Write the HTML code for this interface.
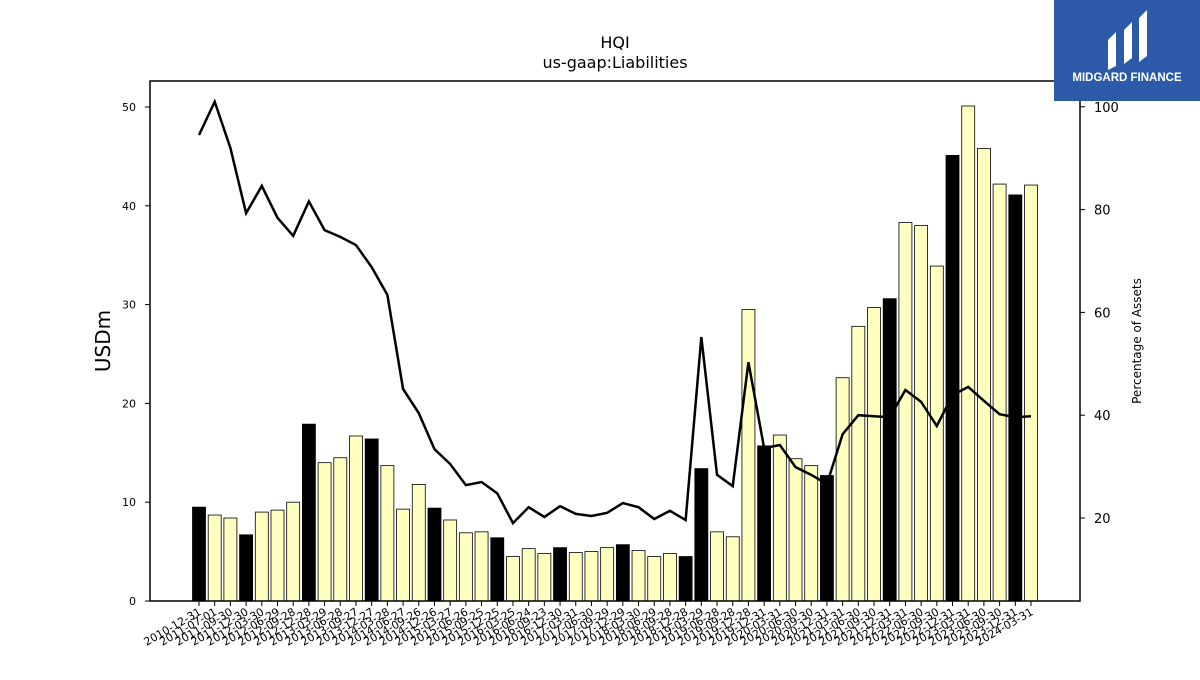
<!DOCTYPE html>
<html><head><meta charset="utf-8"><style>
body{margin:0;background:#fff;font-family:"Liberation Sans","DejaVu Sans",sans-serif}
svg text{font-family:"DejaVu Sans","Liberation Sans",sans-serif}
</style></head><body>
<svg id="chart" width="1200" height="675" xmlns="http://www.w3.org/2000/svg">
<rect width="1200" height="675" fill="#fff"/>
<text x="615" y="48" font-size="16" text-anchor="middle">HQI</text>
<text x="615" y="68" font-size="16" text-anchor="middle">us-gaap:Liabilities</text>
<g id="bars"></g><g id="line"></g><g id="axes"></g>
<rect x="150" y="81" width="930" height="520" fill="none" stroke="#000" stroke-width="1.5"/>
<text transform="translate(110,341) rotate(-90)" font-size="20" text-anchor="middle">USDm</text>
<text transform="translate(1141,341) rotate(-90)" font-size="12" text-anchor="middle">Percentage of Assets</text>
<g>
<rect x="1054" y="0" width="146" height="101" fill="#2c5aa8"/>
<path d="M1108 70 V40 L1116 32 V66 Z M1124 64 V30 L1132 22 V58 Z M1139 62 V18 L1147 10 V56 Z" fill="#fff"/>
<text x="1127" y="81" font-size="11.5" font-weight="bold" fill="#fff" text-anchor="middle" style="font-family:'Liberation Sans',sans-serif">MIDGARD FINANCE</text>
</g>
</svg>
<script>
const dates=["2010-12-31","2011-07-01","2011-09-30","2011-12-30","2012-03-30","2012-06-29","2012-09-28","2012-12-28","2013-03-29","2013-06-28","2013-09-27","2013-12-27","2014-03-28","2014-06-27","2014-09-26","2014-12-26","2015-03-27","2015-06-26","2015-09-25","2015-12-25","2016-03-25","2016-06-24","2016-09-23","2016-12-30","2017-03-31","2017-06-30","2017-09-29","2017-12-29","2018-03-30","2018-06-29","2018-09-28","2018-12-28","2019-03-29","2019-06-28","2019-09-28","2019-12-28","2019-12-31","2020-03-31","2020-06-30","2020-09-30","2020-12-31","2021-03-31","2021-06-30","2021-09-30","2021-12-31","2022-03-31","2022-06-30","2022-09-30","2022-12-31","2023-03-31","2023-06-30","2023-09-30","2023-12-31","2024-03-31"];
const liabilities=[9.5,8.7,8.4,6.7,9.0,9.2,10.0,17.9,14.0,14.5,16.7,16.4,13.7,9.3,11.8,9.4,8.2,6.9,7.0,6.4,4.5,5.3,4.8,5.4,4.9,5.0,5.4,5.7,5.1,4.5,4.8,4.5,13.4,7.0,6.5,29.5,15.7,16.8,14.4,13.7,12.7,22.6,27.8,29.7,30.6,38.3,38.0,33.9,45.1,50.1,45.8,42.2,41.1,42.1];
const annual=[1,0,0,1,0,0,0,1,0,0,0,1,0,0,0,1,0,0,0,1,0,0,0,1,0,0,0,1,0,0,0,1,1,0,0,0,1,0,0,0,1,0,0,0,1,0,0,0,1,0,0,0,1,0];
const pctAssets=[94.5,101,92,79.3,84.6,78.4,74.9,81.6,76,74.7,73.1,68.8,63.4,45.1,40.4,33.4,30.5,26.4,27,24.8,19,22.1,20.2,22.3,20.8,20.4,21,22.9,22.1,19.8,21.4,19.6,55.2,28.4,26.2,50.3,33.6,34.2,29.9,28.4,26.6,36.3,40,39.8,39.6,44.9,42.6,37.9,43.9,45.5,42.8,40.2,39.6,39.8];
const yTicks=[0,10,20,30,40,50];
const y2Ticks=[20,40,60,80,100];
const NS="http://www.w3.org/2000/svg";
const x=i=>199+i*(1031-199)/(dates.length-1);
const y=v=>601-v*9.88;
const y2=v=>620.8-v*5.14;
function mk(t,a,p){const e=document.createElementNS(NS,t);for(const k in a)e.setAttribute(k,a[k]);p.appendChild(e);return e;}
const bars=document.getElementById('bars'),line=document.getElementById('line'),axes=document.getElementById('axes');
liabilities.forEach((v,i)=>{
 const r=mk('rect',{x:x(i)-6.5,y:y(v),width:13,height:601-y(v),fill:annual[i]?'#000':'#ffffc0',stroke:'#000','stroke-width':0.8},bars);
 
 
});
const pl=mk('polyline',{points:pctAssets.map((v,i)=>x(i)+','+y2(v)).join(' '),fill:'none',stroke:'#000','stroke-width':2.5},line);


yTicks.forEach(t=>{
 mk('line',{x1:145,x2:150,y1:y(t),y2:y(t),stroke:'#000'},axes);
 const tx=mk('text',{x:136,y:y(t)+4,'font-size':11,'text-anchor':'end'},axes);tx.textContent=t;
 
 
});
y2Ticks.forEach(t=>{
 mk('line',{x1:1080,x2:1085,y1:y2(t),y2:y2(t),stroke:'#000'},axes);
 const tx=mk('text',{x:1094,y:y2(t)+5,'font-size':13},axes);tx.textContent=t;
 
 
});
dates.forEach((d,i)=>{
 mk('line',{x1:x(i),x2:x(i),y1:601,y2:606,stroke:'#000'},axes);
 const tx=mk('text',{transform:`translate(${x(i)+3},${614}) rotate(-30)`,'font-size':11,'text-anchor':'end'},axes);tx.textContent=d;
 
 
});
</script>
</body></html>
